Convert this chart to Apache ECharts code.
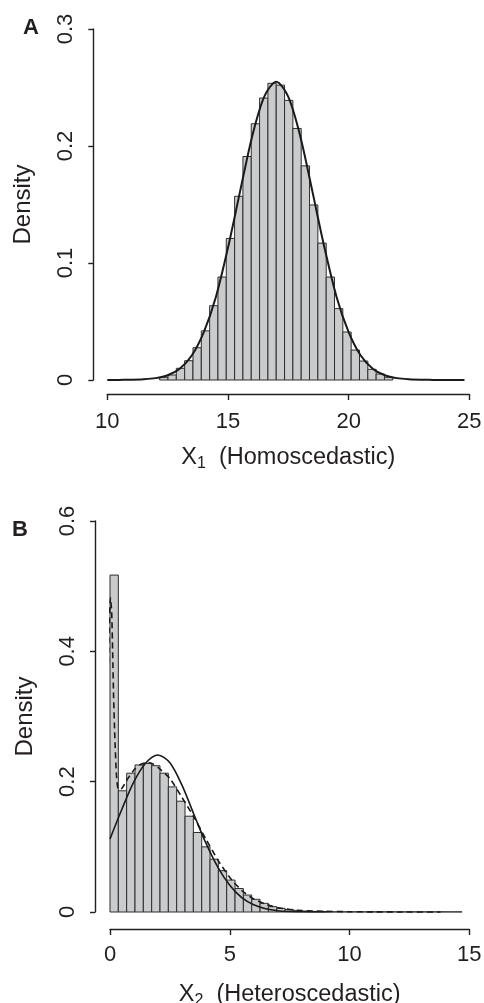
<!DOCTYPE html>
<html>
<head>
<meta charset="UTF-8">
<title>Density histograms</title>
<script src="https://cdn.jsdelivr.net/npm/echarts@6/dist/echarts.min.js"></script>
<style>
  html, body { margin: 0; padding: 0; background: #fff; }
  #main { width: 484px; height: 1003px; }
</style>
</head>
<body>
<div id="main"></div>
<script>
// panel A: X1 (homoscedastic)
var edgesA = [12.17, 12.515, 12.86, 13.205, 13.55, 13.895, 14.24, 14.585, 14.93, 15.275,
  15.62, 15.965, 16.31, 16.655, 17.0, 17.345, 17.69, 18.035, 18.38, 18.725,
  19.07, 19.415, 19.76, 20.105, 20.45, 20.795, 21.14, 21.485, 21.83];
var densA = [0.0023, 0.0043, 0.010, 0.0165, 0.0276, 0.042, 0.0635, 0.088, 0.121, 0.157,
  0.191, 0.219, 0.241, 0.2536, 0.252, 0.239, 0.215, 0.183, 0.1496, 0.117,
  0.088, 0.061, 0.041, 0.0256, 0.0162, 0.0091, 0.0051, 0.0023];
var curveAx = [10, 10.5, 11, 11.5, 12, 12.5, 13, 13.5, 14, 14.5, 15, 15.5, 16, 16.5, 17,
  17.5, 18, 18.5, 19, 19.5, 20, 20.5, 21, 21.5, 22, 22.5, 23, 23.5, 24, 24.8];
var curveAy = [0, 0.0001, 0.0002, 0.0006, 0.0016, 0.0041, 0.0097, 0.021, 0.041, 0.071, 0.113, 0.161, 0.208, 0.242, 0.255,
  0.242, 0.208, 0.161, 0.113, 0.071, 0.041, 0.021, 0.0097, 0.0041, 0.0016, 0.0006, 0.0002, 0.0001, 0, 0];

// panel B: X2 (heteroscedastic)
var edgesB = [0, 0.348, 0.696, 1.044, 1.392, 1.74, 2.088, 2.436, 2.784, 3.132, 3.48, 3.828, 4.176, 4.524,
  4.872, 5.22, 5.568, 5.916, 6.264, 6.612, 6.96, 7.308, 7.656, 8.004, 8.352, 8.7, 9.048];
var densB = [0.517, 0.186, 0.213, 0.2256, 0.228, 0.2245, 0.213, 0.192, 0.170, 0.147, 0.122, 0.100, 0.081,
  0.0634, 0.049, 0.036, 0.026, 0.0195, 0.0133, 0.0082, 0.0056, 0.004, 0.0025, 0.0015, 0.001, 0.0007];
var normBx = [0, 0.5, 1, 1.5, 2, 2.5, 3, 3.5, 4, 4.5, 5, 5.5, 6, 6.5, 7, 7.5, 8, 9, 10, 14.7];
var normBy = [0.112, 0.158, 0.200, 0.229, 0.241, 0.229, 0.195, 0.150, 0.106, 0.069, 0.041, 0.022, 0.011,
  0.005, 0.002, 0.0008, 0.0003, 0.0001, 0, 0];
var kdeBx = [-0.55, -0.45, -0.35, -0.28, -0.22, -0.15, -0.09, -0.04, 0.02, 0.07, 0.11, 0.15, 0.2, 0.27, 0.35,
  0.5, 0.75, 1.0, 1.25, 1.5, 1.75, 2.0, 2.5, 3.0, 3.5, 4.0, 4.5, 5.0, 5.5, 6.0, 6.5, 7.0, 7.5, 8.0, 9.0, 10, 11, 12, 13.8];
var kdeBy = [0, 0.005, 0.015, 0.05, 0.12, 0.23, 0.34, 0.43, 0.482, 0.46, 0.40, 0.33, 0.27, 0.21, 0.188,
  0.19, 0.205, 0.218, 0.226, 0.229, 0.228, 0.222, 0.205, 0.176, 0.146, 0.112, 0.080, 0.053, 0.033, 0.020,
  0.012, 0.0068, 0.0038, 0.0022, 0.001, 0.0004, 0.0002, 0.0001, 0];

var font = 'Liberation Sans, Arial, sans-serif';
var ink = '#231f20';

function zip(xs, ys) {
  return xs.map(function (x, i) { return [x, ys[i]]; });
}
function bins(edges, dens) {
  return dens.map(function (d, i) { return [edges[i], edges[i + 1], d]; });
}
function renderBar(params, api) {
  var top = api.coord([api.value(0), api.value(2)]);
  var bot = api.coord([api.value(1), 0]);
  return {
    type: 'rect',
    shape: { x: top[0], y: top[1], width: bot[0] - top[0], height: bot[1] - top[1] },
    style: { fill: '#cacbcd', stroke: '#2e2e2e', lineWidth: 1 }
  };
}

function xAx(idx, min, max, offset, margin, gap, sub, rest) {
  return {
    type: 'value', gridIndex: idx, min: min, max: max, interval: 5, offset: offset,
    splitLine: { show: false },
    axisLine: { onZero: false, lineStyle: { color: ink, width: 1.4 } },
    axisTick: { length: 6, lineStyle: { color: ink, width: 1.4 } },
    axisLabel: { color: ink, fontSize: 22, fontFamily: font, margin: margin },
    name: '{t|X}{s|' + sub + '}{t|  ' + rest + '}',
    nameLocation: 'middle', nameGap: gap,
    nameTextStyle: {
      rich: {
        t: { fontSize: 23.5, lineHeight: 28, fontFamily: font, color: ink },
        s: { fontSize: 16, lineHeight: 15, verticalAlign: 'bottom', fontFamily: font, color: ink }
      }
    }
  };
}
function yAx(idx, max, interval, offset) {
  return {
    type: 'value', gridIndex: idx, min: 0, max: max, interval: interval, offset: offset,
    splitLine: { show: false },
    axisLine: { show: true, onZero: false, lineStyle: { color: ink, width: 1.4 } },
    axisTick: { show: true, length: 5, lineStyle: { color: ink, width: 1.4 } },
    axisLabel: { color: ink, fontSize: 22, fontFamily: font, rotate: 90, margin: 16 },
    name: 'Density', nameLocation: 'middle', nameRotate: 90, nameGap: 58,
    nameTextStyle: { color: ink, fontSize: 24, fontFamily: font }
  };
}

var chart = echarts.init(document.getElementById('main'), null, { renderer: 'canvas' });
chart.setOption({
  animation: false,
  backgroundColor: '#ffffff',
  grid: [
    { left: 107.3, right: 14.7, top: 29, height: 351, containLabel: false, outerBoundsMode: 'none' },
    { left: 110, right: 14.7, top: 521, height: 391, containLabel: false, outerBoundsMode: 'none' }
  ],
  xAxis: [
    xAx(0, 10, 25, 14, 17, 50, '1', '(Homoscedastic)'),
    xAx(1, 0, 15, 17, 15, 52, '2', '(Heteroscedastic)')
  ],
  yAxis: [
    yAx(0, 0.3, 0.1, 14),
    yAx(1, 0.6, 0.2, 15)
  ],
  graphic: [
    { type: 'text', left: 23, top: 17, style: { text: 'A', fontSize: 22, fontWeight: 'bold', fontFamily: font, fill: ink } },
    { type: 'text', left: 12, top: 519, style: { text: 'B', fontSize: 22, fontWeight: 'bold', fontFamily: font, fill: ink } }
  ],
  series: [
    {
      type: 'custom', xAxisIndex: 0, yAxisIndex: 0, renderItem: renderBar,
      encode: { x: [0, 1], y: 2 }, data: bins(edgesA, densA)
    },
    {
      type: 'line', xAxisIndex: 0, yAxisIndex: 0, data: zip(curveAx, curveAy),
      showSymbol: false, smooth: 0.3, lineStyle: { color: '#1a1a1a', width: 2 }, z: 5
    },
    {
      type: 'custom', xAxisIndex: 1, yAxisIndex: 1, renderItem: renderBar,
      encode: { x: [0, 1], y: 2 }, data: bins(edgesB, densB)
    },
    {
      type: 'line', xAxisIndex: 1, yAxisIndex: 1, data: zip(normBx, normBy),
      showSymbol: false, smooth: 0.3, lineStyle: { color: '#1a1a1a', width: 1.6 }, z: 5
    },
    {
      type: 'line', xAxisIndex: 1, yAxisIndex: 1, data: zip(kdeBx, kdeBy),
      showSymbol: false, smooth: 0.2, clip: false,
      lineStyle: { color: '#1a1a1a', width: 1.6, type: [6, 4] }, z: 6
    }
  ]
});
</script>
</body>
</html>
